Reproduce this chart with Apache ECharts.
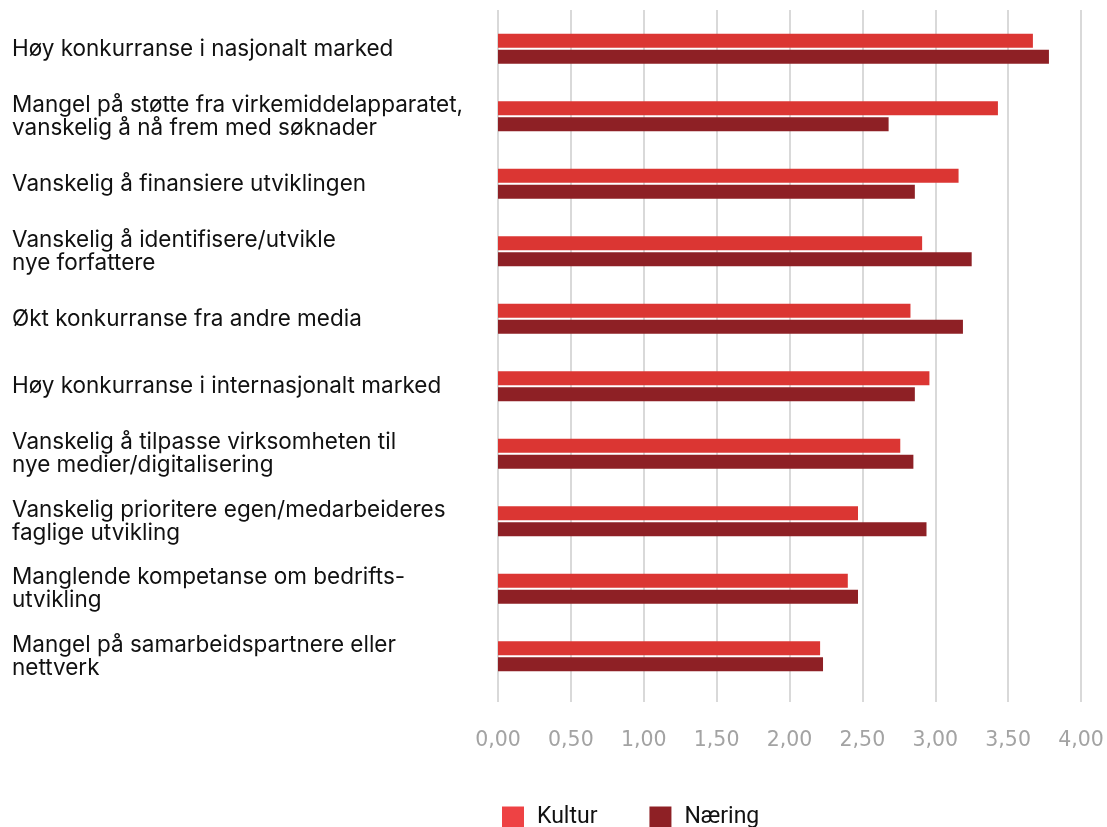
<!DOCTYPE html>
<html>
<head>
<meta charset="utf-8">
<script src="https://cdn.jsdelivr.net/npm/echarts@6/dist/echarts.min.js"></script>
<style>
  html, body { margin: 0; padding: 0; background: #fff; }
  #chart { width: 1107px; height: 827px; }
</style>
</head>
<body>
<div id="chart"></div>
<script>
// Categories, listed top to bottom
const categories = [
  'Høy konkurranse i nasjonalt marked',
  'Mangel på støtte fra virkemiddelapparatet,\nvanskelig å nå frem med søknader',
  'Vanskelig å finansiere utviklingen',
  'Vanskelig å identifisere/utvikle\nnye forfattere',
  'Økt konkurranse fra andre media',
  'Høy konkurranse i internasjonalt marked',
  'Vanskelig å tilpasse virksomheten til\nnye medier/digitalisering',
  'Vanskelig prioritere egen/medarbeideres\nfaglige utvikling',
  'Manglende kompetanse om bedrifts-\nutvikling',
  'Mangel på samarbeidspartnere eller\nnettverk'
];

const kultur = [3.67, 3.43, 3.16, 2.91, 2.83, 2.96, 2.76, 2.47, 2.40, 2.21];
const naering = [3.78, 2.68, 2.86, 3.25, 3.19, 2.86, 2.85, 2.94, 2.47, 2.23];

const xTicks = { min: 0, max: 4, interval: 0.5 };

const fmt = v => v.toFixed(2).replace('.', ',');

const chart = echarts.init(document.getElementById('chart'));
chart.setOption({
  animation: false,
  backgroundColor: '#ffffff',
  legend: {
    left: 497,
    top: 801,
    itemWidth: 22,
    itemHeight: 22,
    itemGap: 52,
    icon: 'rect',
    textStyle: { fontFamily: 'Roboto', fontSize: 23, color: '#111111', padding: [0, 0, 0, 8] },
    data: [
      { name: 'Kultur', itemStyle: { color: '#ee4244' } },
      { name: 'Næring', itemStyle: { color: '#8e2025' } }
    ]
  },
  grid: [
    { left: 498, right: 26, top: 15, height: 675 },
    { left: 498, right: 26, top: 10, height: 692 }
  ],
  xAxis: [
    {
      gridIndex: 0, type: 'value', min: xTicks.min, max: xTicks.max, interval: xTicks.interval,
      axisLine: { show: false }, axisTick: { show: false }, axisLabel: { show: false },
      splitLine: { show: false }
    },
    {
      gridIndex: 1, type: 'value', min: xTicks.min, max: xTicks.max, interval: xTicks.interval,
      axisLine: { show: false }, axisTick: { show: false },
      axisLabel: {
        margin: 28, fontFamily: 'DejaVu Sans', fontSize: 20.5, color: '#a3a3a3',
        formatter: fmt
      },
      splitLine: { show: true, lineStyle: { color: '#d9d9d9', width: 2 } }
    }
  ],
  yAxis: [
    {
      gridIndex: 0, type: 'category', data: categories, inverse: true,
      axisLine: { show: false }, axisTick: { show: false },
      axisLabel: {
        align: 'left', margin: 486, fontFamily: 'Inter', fontSize: 22.5,
        color: '#111111', lineHeight: 23
      }
    },
    {
      gridIndex: 1, type: 'category', data: categories, show: false
    }
  ],
  series: [
    {
      name: 'Kultur', type: 'bar', xAxisIndex: 0, yAxisIndex: 0,
      data: kultur, barWidth: 14, barGap: '14%',
      itemStyle: { color: '#db3633' }
    },
    {
      name: 'Næring', type: 'bar', xAxisIndex: 0, yAxisIndex: 0,
      data: naering, barWidth: 14, barGap: '14%',
      itemStyle: { color: '#8e2025' }
    }
  ]
});
</script>
</body>
</html>
